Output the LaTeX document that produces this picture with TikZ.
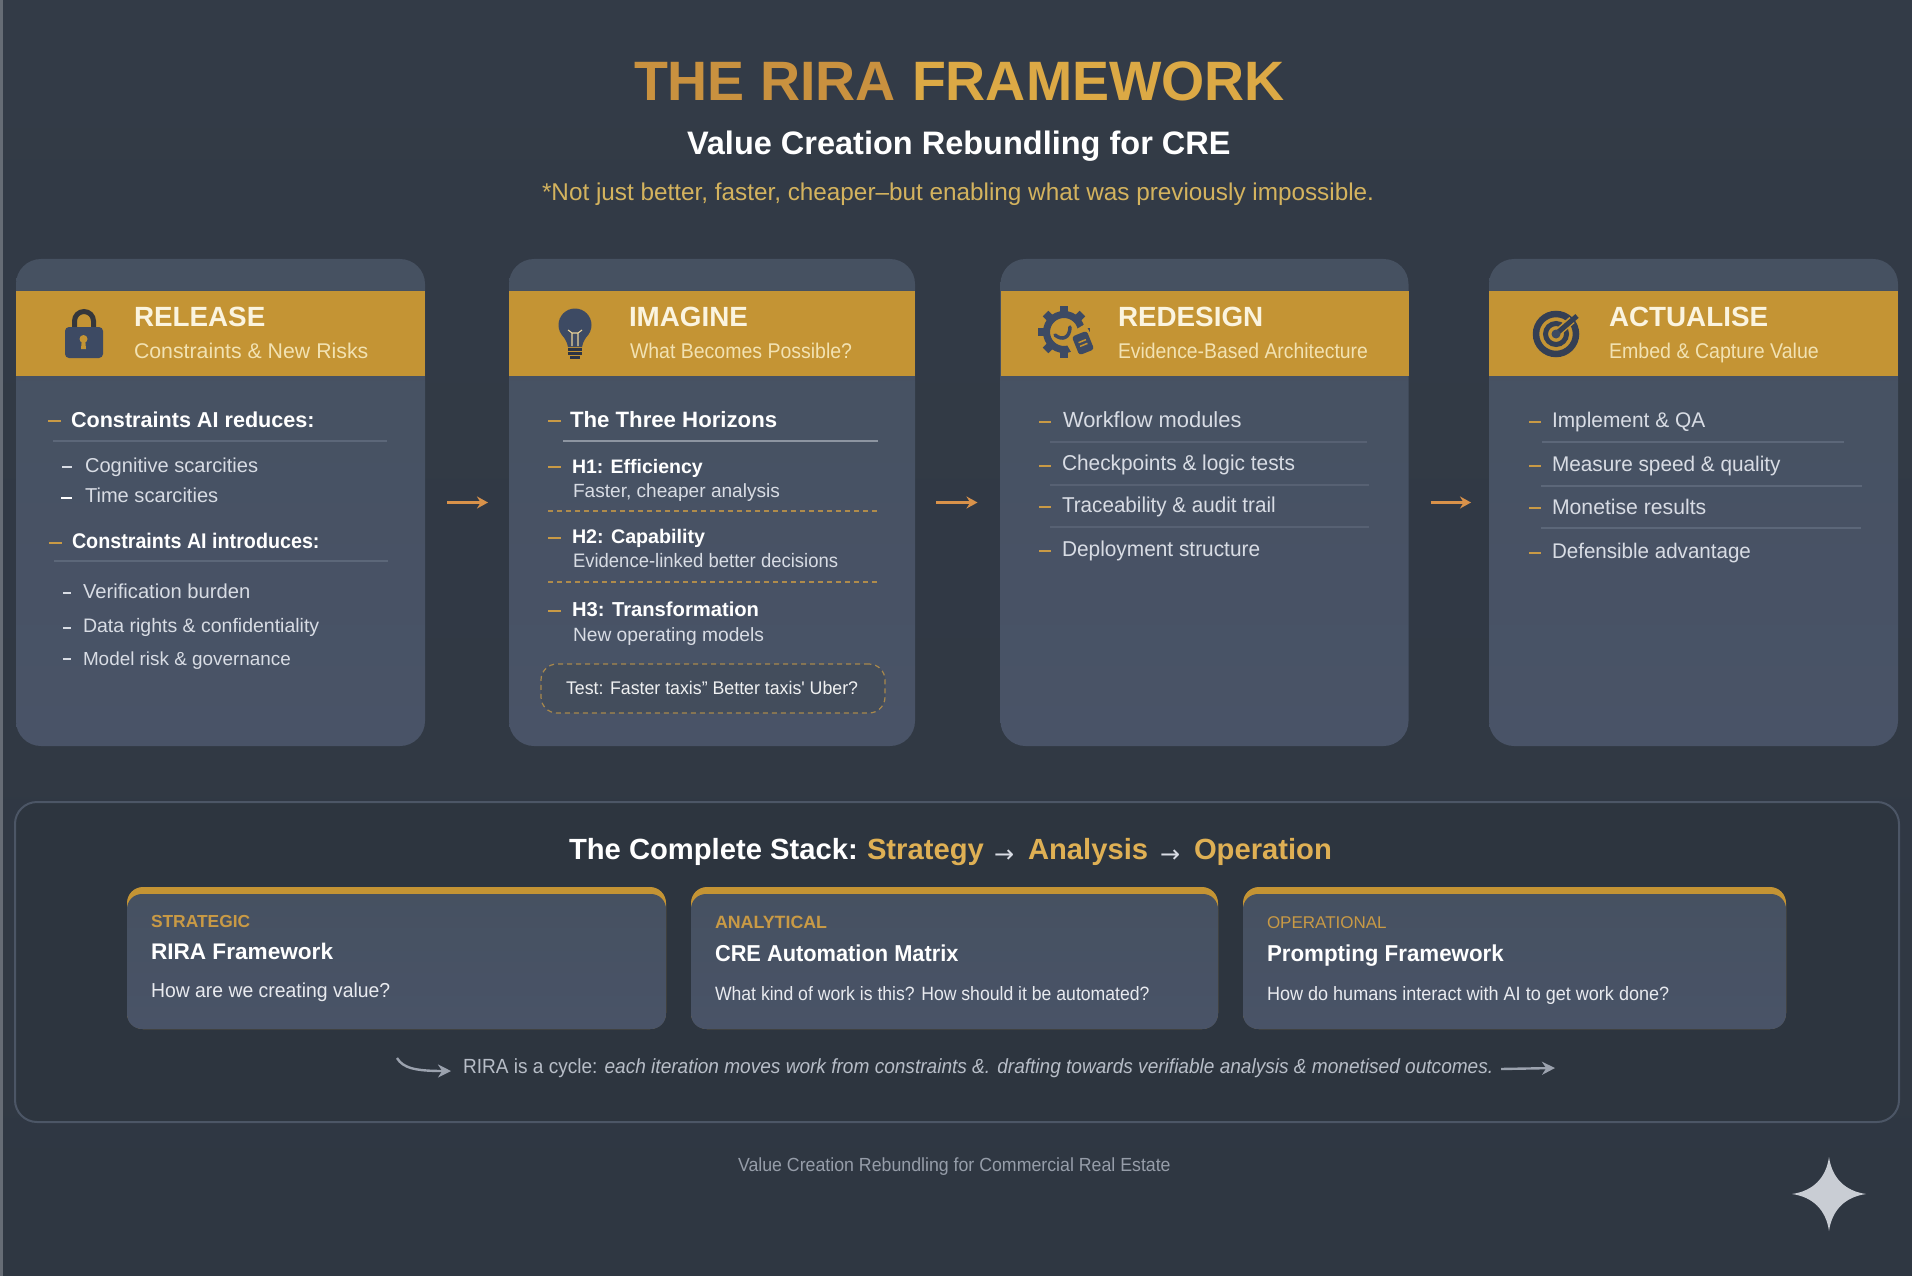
\documentclass[tikz,border=0pt]{standalone}
\usepackage{graphicx}
\usepackage{fontspec}
\setmainfont{Liberation Sans}
\newfontfamily\arrowfont{DejaVu Sans}
\usetikzlibrary{arrows.meta,calc}
\definecolor{bgtop}{HTML}{333B47}
\definecolor{bgbot}{HTML}{2F3742}
\definecolor{cardtop}{HTML}{465161}
\definecolor{cardbot}{HTML}{495367}
\definecolor{gold}{HTML}{C49434}
\definecolor{dashgold}{HTML}{C99A45}
\definecolor{titleA}{HTML}{C9913F}
\definecolor{titleB}{HTML}{DCA945}
\definecolor{noteGold}{HTML}{D4B35E}
\definecolor{cream}{HTML}{FBF4DF}
\definecolor{creamsub}{HTML}{F2E2B2}
\definecolor{bodytxt}{HTML}{D8DCE4}
\definecolor{rulec}{HTML}{5C6779}
\definecolor{icon}{HTML}{3D4A63}
\definecolor{flow}{HTML}{D9924A}
\definecolor{greyarrow}{HTML}{9BA2AE}
\definecolor{cycletxt}{HTML}{B7BDC7}
\definecolor{foot}{HTML}{969DA9}
\definecolor{starc}{HTML}{C9CDD4}
\tikzset{
  lbl/.style={anchor=base west,inner sep=0pt,outer sep=0pt},
  card/.style={rounded corners=25pt,top color=cardtop,bottom color=cardbot,minimum width=#1,minimum height=487pt,inner sep=0pt,outer sep=0pt},
  band/.style={fill=gold,minimum width=#1,minimum height=85pt,inner sep=0pt,outer sep=0pt},
  flowarrow/.style={draw=flow,line width=3pt,-{Stealth[length=11pt,width=12pt]}},
  subgold/.style={fill=gold,rounded corners=16pt,minimum height=142pt,inner sep=0pt,outer sep=0pt,minimum width=#1},
  subbody/.style={top color=cardtop,bottom color=cardbot,rounded corners=15pt,minimum height=135pt,inner sep=0pt,outer sep=0pt,minimum width=#1},
  dashG/.style={draw=dashgold,line width=2.2pt},
  dashW/.style={draw=bodytxt,line width=1.6pt},
  rulel/.style={draw=rulec,line width=1.2pt},
  dashl/.style={draw=dashgold!80!cardtop,line width=1.1pt,dash pattern=on 5pt off 4pt},
  greyarr/.style={draw=greyarrow,line width=2.4pt,-{Stealth[length=13pt,width=13pt]}}
}
\def\dy{0}
\newcommand\sx[2]{\scalebox{#1}[1]{#2}}
\newcommand\lab[6]{\node[lbl,text=#5,font=\fontsize{#4pt}{#4pt}\selectfont,yshift=\dy pt] (#1) at (#2,#3) {#6};}
\begin{document}
\begin{tikzpicture}[x=1pt,y=-1pt]
\useasboundingbox (0,0) rectangle (1912,1276);
\shade[top color=bgtop,bottom color=bgbot] (0,0) rectangle (1912,1276);
\fill[white!25!bgtop] (0,0) rectangle (2.5,1276);
% Title
\lab{tA}{634}{101}{55.5}{titleA}{\bfseries THE RIRA}
\lab{tB}{912}{101}{55.5}{titleB}{\bfseries FRAMEWORK}
\lab{tS}{687}{155}{32.5}{white}{\bfseries Value Creation Rebundling for CRE}
\lab{tN}{542}{201}{24.3}{noteGold}{*Not just better, faster, cheaper--but enabling what was previously impossible.}
% Cards
\node[card=409pt] (c1) at (220.5,502.5) {};
\node[card=406pt] (c2) at (712,502.5) {};
\node[card=408pt] (c3) at (1204.5,502.5) {};
\node[card=409pt] (c4) at (1693.5,502.5) {};
\node[band=409pt] (b1) at (220.5,333.5) {};
\node[band=406pt] (b2) at (712,333.5) {};
\node[band=408pt] (b3) at (1204.5,333.5) {};
\node[band=409pt] (b4) at (1693.5,333.5) {};
\draw[flowarrow,shorten <=22pt,shorten >=21pt] (c1) -- (c2);
\draw[flowarrow,shorten <=21pt,shorten >=23pt] (c2) -- (c3);
\draw[flowarrow,shorten <=22pt,shorten >=18pt] (c3) -- (c4);
\def\dy{1}
% Headers
\lab{h1a}{134}{327}{27.8}{cream}{\bfseries RELEASE}
\lab{h1b}{134}{359}{21.3}{creamsub}{Constraints \& New Risks}
\lab{h2a}{629}{327}{27.8}{cream}{\bfseries IMAGINE}
\lab{h2b}{630}{359}{21.3}{creamsub}{\sx{.915}{What Becomes Possible?}}
\lab{h3a}{1118}{327}{27.8}{cream}{\bfseries REDESIGN}
\lab{h3b}{1118}{359}{21.3}{creamsub}{\sx{.91}{Evidence-Based Architecture}}
\lab{h4a}{1609}{327}{27.8}{cream}{\bfseries ACTUALISE}
\lab{h4b}{1609}{359}{21.3}{creamsub}{\sx{.92}{Embed \& Capture Value}}
% Lock icon
\draw[icon!60!black!90!gold,line width=5pt] (74.5,328) -- (74.5,321) arc[start angle=180,end angle=0,radius=9.5pt] -- (93.5,328);
\fill[icon,rounded corners=4pt] (65,327) rectangle (103,358);
\fill[gold] (83.5,339) circle (4pt);
\fill[gold] (81.8,340) -- (85.2,340) -- (86,349) -- (81,349) -- cycle;
% Bulb icon
\fill[icon] (575,325) circle (16.5pt);
\fill[icon] (560.5,332) .. controls (564,338) and (567,341) .. (568,347) -- (582,347) .. controls (583,341) and (586,338) .. (589.5,332) -- cycle;
\draw[icon!70!black,line width=2.4pt] (568,349.5) -- (582,349.5) (568,353.5) -- (582,353.5) (570,357.5) -- (580,357.5);
\draw[creamsub!80!gold,line width=1.1pt] (572,346) -- (572,333) -- (568,330) (578,346) -- (578,333) -- (582,330) (572,333) -- (578,333);
% Gear icon
\draw[icon,line width=7pt] (1064,332) circle (17.5pt);
\foreach \a in {0,45,...,315}{\fill[icon,rotate around={\a:(1064,332)}] (1060,306) rectangle (1068,316);}
\fill[gold,rotate around={30:(1081,345)}] (1069,329) rectangle (1095,361);
\fill[icon,rounded corners=3pt,rotate around={22:(1083,343)}] (1075,333) rectangle (1091,353);
\draw[gold,line width=1.5pt,rotate around={22:(1083,343)}] (1079,341) -- (1087,341) (1079,345) -- (1087,345);
\draw[icon,line width=3.5pt,line cap=round] (1055,335) .. controls (1062,341) and (1070,338) .. (1070,327);
% Target icon
\draw[icon!85!black,line width=6.5pt] (1556,334) circle (20pt);
\draw[icon!85!black,line width=5pt] (1556,334) circle (10.5pt);
\draw[gold,line width=8pt] (1556,334) -- (1572,320);
\draw[icon!85!black,line width=5pt] (1556,334) -- (1577,316);
\fill[icon] (1556,334) circle (4.5pt);
% Card 1 content
\draw[dashG] (48,421) -- (61,421); \draw[dashG] (49,543) -- (62,543);
\lab{a1}{71}{428}{21.6}{white}{\bfseries Constraints AI reduces:}
\draw[rulel] (53,441) -- (387,441);
\draw[dashW] (62,467) -- (72,467);
\lab{a2}{85}{473}{20.1}{bodytxt}{Cognitive scarcities}
\draw[draw=white,line width=2.2pt] (61,498) -- (72,498);
\lab{a3}{85}{503}{20.1}{bodytxt}{Time scarcities}
\lab{a4}{72}{549}{21.2}{white}{\bfseries \sx{.93}{Constraints AI introduces:}}
\draw[rulel] (54,561) -- (388,561);
\draw[dashW] (63,593) -- (71,593);
\lab{a5}{83}{599}{20.2}{bodytxt}{Verification burden}
\draw[dashW] (63,628) -- (71,628);
\lab{a6}{83}{633}{19.5}{bodytxt}{Data rights \& confidentiality}
\draw[dashW] (63,659) -- (71,659);
\lab{a7}{83}{666}{18.9}{bodytxt}{Model risk \& governance}
% Card 2 content
\draw[dashG] (548,421) -- (561,421);
\lab{b1t}{570}{428}{22.2}{white}{\bfseries The Three Horizons}
\draw[rulel,draw=rulec!70!white] (563,441) -- (878,441);
\draw[dashG] (548,467) -- (561,467);
\lab{b2t}{572}{474}{19.5}{white}{\bfseries H1: Efficiency}
\lab{b3t}{573}{498}{19.1}{bodytxt}{Faster, cheaper analysis}
\draw[dashl] (548,511) -- (878,511);
\draw[dashG] (548,538) -- (561,538);
\lab{b4t}{572}{544}{19.7}{white}{\bfseries H2: Capability}
\lab{b5t}{573}{568}{19.5}{bodytxt}{\sx{.948}{Evidence-linked better decisions}}
\draw[dashl] (548,582) -- (878,582);
\draw[dashG] (548,611) -- (561,611);
\lab{b6t}{572}{617}{20.2}{white}{\bfseries H3: Transformation}
\lab{b7t}{573}{642}{19.2}{bodytxt}{New operating models}
\node[draw=dashgold!75!cardtop,line width=1.2pt,dash pattern=on 5pt off 4pt,fill=cardtop!85!bgbot,rounded corners=16pt,minimum width=344pt,minimum height=49pt,inner sep=0pt] (testbox) at (713,688.5) {};
\lab{b8t}{566}{695}{18.3}{white!92!cardtop}{\sx{.97}{Test: Faster taxis" Better taxis\textquotesingle{} Uber?}}
% Card 3 content
\lab{c1t}{1063}{428}{21.9}{bodytxt}{Workflow modules}
\draw[dashG] (1039,422) -- (1051,422); \draw[rulel,draw=rulec!75!cardtop] (1050,442) -- (1367,442);
\lab{c2t}{1062}{471}{21.5}{bodytxt}{\sx{.97}{Checkpoints \& logic tests}}
\draw[dashG] (1039,466) -- (1051,466); \draw[rulel,draw=rulec!75!cardtop] (1050,485) -- (1369,485);
\lab{c3t}{1062}{513}{21.5}{bodytxt}{\sx{.96}{Traceability \& audit trail}}
\draw[dashG] (1039,507) -- (1051,507); \draw[rulel,draw=rulec!75!cardtop] (1050,527) -- (1369,527);
\lab{c4t}{1062}{557}{21.5}{bodytxt}{\sx{.97}{Deployment structure}}
\draw[dashG] (1039,551) -- (1051,551);
% Card 4 content
\lab{d1t}{1552}{428}{21.2}{bodytxt}{\sx{.985}{Implement \& QA}}
\draw[dashG] (1529,422) -- (1541,422); \draw[rulel,line width=1.8pt] (1542,442) -- (1844,442);
\lab{d2t}{1552}{472}{21.2}{bodytxt}{\sx{.98}{Measure speed \& quality}}
\draw[dashG] (1529,466) -- (1541,466); \draw[rulel] (1541,486) -- (1862,486);
\lab{d3t}{1552}{515}{21.2}{bodytxt}{Monetise results}
\draw[dashG] (1529,508) -- (1541,508); \draw[rulel,line width=1.8pt] (1541,528) -- (1861,528);
\lab{d4t}{1552}{559}{21.2}{bodytxt}{\sx{.97}{Defensible advantage}}
\draw[dashG] (1529,553) -- (1541,553);
% Stack panel
\def\dy{0}
\node[draw=rulec!65!bgbot,line width=2pt,fill=bgbot!96!black,rounded corners=22pt,minimum width=1884pt,minimum height=320pt,inner sep=0pt] (panel) at (957,962) {};
\lab{s1}{569}{859}{29.2}{white}{\bfseries The Complete Stack:}
\lab{s2}{867}{859}{29.2}{titleB!92!white}{\bfseries Strategy}
\lab{s3}{994}{862}{24}{bodytxt}{\arrowfont →}
\lab{s4}{1028}{859}{29.2}{titleB!92!white}{\bfseries Analysis}
\lab{s5}{1160}{862}{24}{bodytxt}{\arrowfont →}
\lab{s6}{1194}{859}{29.2}{titleB!92!white}{\bfseries Operation}
% Sub cards
\node[subgold=539pt] (g1) at (396.5,958) {};
\node[subbody=539pt] (k1) at (396.5,961.5) {};
\node[subgold=527pt] (g2) at (954.5,958) {};
\node[subbody=527pt] (k2) at (954.5,961.5) {};
\node[subgold=543pt] (g3) at (1514.5,958) {};
\node[subbody=543pt] (k3) at (1514.5,961.5) {};
\lab{e1}{151}{927}{17.4}{dashgold}{\bfseries STRATEGIC}
\lab{e2}{151}{959}{22.6}{white}{\bfseries RIRA Framework}
\lab{e3}{151}{997}{20.2}{bodytxt!60!white}{\sx{.96}{How are we creating value?}}
\lab{f1}{715}{928}{17.8}{dashgold}{\bfseries ANALYTICAL}
\lab{f2}{715}{961}{23}{white}{\bfseries \sx{.948}{CRE Automation Matrix}}
\lab{f3}{715}{1000}{19.3}{bodytxt!60!white}{\sx{.913}{What kind of work is this? How should it be automated?}}
\lab{g1t}{1267}{928}{17}{dashgold}{OPERATIONAL}
\lab{g2t}{1267}{961}{23}{white}{\bfseries \sx{.97}{Prompting Framework}}
\lab{g3t}{1267}{1000}{19.3}{bodytxt!60!white}{\sx{.935}{How do humans interact with AI to get work done?}}
% Cycle line
\def\dy{1}
\lab{r1}{463}{1074}{20.5}{cycletxt}{\sx{.93}{RIRA is a cycle: {\itshape each iteration moves work from constraints \&. drafting towards verifiable analysis \& monetised outcomes.}}}
\coordinate (la) at (397,1058);
\coordinate (lb) at (451,1071);
\coordinate (ra) at (1501,1069);
\coordinate (rb) at (1555,1068);
\draw[greyarr] (la) .. controls (403,1068) and (415,1071) .. (lb);
\draw[greyarr] (ra) -- (rb);
% Footer
\lab{ft}{738}{1172}{19}{foot}{\sx{.934}{Value Creation Rebundling for Commercial Real Estate}}
% Star
\fill[starc] (1829,1157) .. controls (1832,1178) and (1845,1191) .. (1866,1194) .. controls (1845,1197) and (1832,1210) .. (1829,1231) .. controls (1826,1210) and (1813,1197) .. (1792,1194) .. controls (1813,1191) and (1826,1178) .. (1829,1157) -- cycle;
\end{tikzpicture}
\end{document}
